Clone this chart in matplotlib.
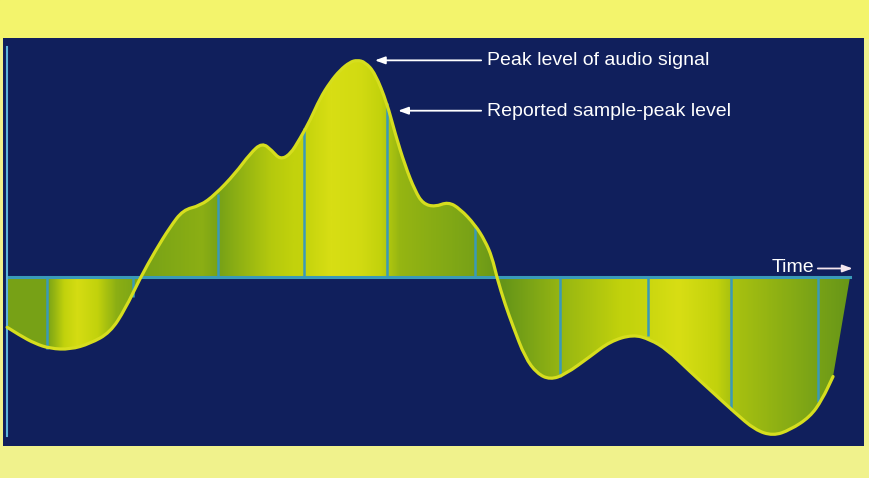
import numpy as np
import matplotlib.pyplot as plt
from matplotlib.colors import LinearSegmentedColormap
from matplotlib.path import Path
from matplotlib.patches import PathPatch

# waveform: time in sample periods, level relative to the true peak
t = [-0.465, -0.314, -0.140, 0.035, 0.267, 0.500, 0.733, 0.907, 1.081, 1.256,
     1.430, 1.581, 1.779, 1.953, 2.186, 2.360, 2.500, 2.616, 2.709, 2.826,
     2.942, 3.058, 3.174, 3.291, 3.407, 3.523, 3.605, 3.698, 3.814, 3.953,
     4.047, 4.163, 4.279, 4.372, 4.512, 4.663, 4.802, 4.977, 5.093, 5.174,
     5.233, 5.326, 5.419, 5.558, 5.698, 5.849, 6.023, 6.314, 6.547, 6.814,
     7.012, 7.209, 7.477, 7.744, 8.000, 8.233, 8.442, 8.640, 8.872, 9.012, 9.140]
level = [-0.231, -0.269, -0.306, -0.329, -0.333, -0.306, -0.255, -0.148, -0.005, 0.120,
         0.231, 0.310, 0.329, 0.380, 0.477, 0.569, 0.620, 0.583, 0.542, 0.565,
         0.639, 0.722, 0.824, 0.898, 0.954, 0.991, 1.000, 0.991, 0.940, 0.801,
         0.662, 0.514, 0.398, 0.338, 0.324, 0.347, 0.315, 0.241, 0.167, 0.093,
         -0.005, -0.125, -0.227, -0.370, -0.444, -0.472, -0.449, -0.366, -0.296, -0.264,
         -0.287, -0.333, -0.435, -0.532, -0.625, -0.704, -0.731, -0.704, -0.644, -0.565, -0.458]
t_end = 9.337  # where the shaded area closes back on the time axis

# sample instants and the level each one reports
sample_t = [0.0, 1.0, 1.988, 2.988, 3.953, 4.977, 5.965, 6.988, 7.953, 8.965]
sample_level = [-0.329, -0.093, 0.384, 0.685, 0.801, 0.241, -0.458, -0.273, -0.611, -0.574]

navy = "#101f5c"
teal = "#3a9ab8"
curve_col = "#d6de1e"


def smooth_path(xs, ys):
    # quadratic bezier through the midpoints, the read points act as control points
    pts = list(zip(xs, ys))
    verts = [pts[0]]
    codes = [Path.MOVETO]
    for i in range(1, len(pts) - 1):
        mid = ((pts[i][0] + pts[i + 1][0]) / 2, (pts[i][1] + pts[i + 1][1]) / 2)
        verts += [pts[i], mid]
        codes += [Path.CURVE3, Path.CURVE3]
    verts.append(pts[-1])
    codes.append(Path.LINETO)
    return verts, codes


fig = plt.figure(figsize=(8.7, 4.78), dpi=100, facecolor="#f0f28c")
fig.patches.append(plt.Rectangle((0, 1 - 38 / 478), 1, 38 / 478, transform=fig.transFigure,
                                 color="#f3f46c", zorder=-1))
ax = fig.add_axes([3 / 870, 1 - 446 / 478, 861 / 870, 408 / 478])
ax.set_facecolor(navy)
ax.set_xlim(-0.513, 9.500)
ax.set_ylim(-0.778, 1.102)
ax.set_xticks([])
ax.set_yticks([])
for s in ax.spines.values():
    s.set_visible(False)

verts, codes = smooth_path(t, level)

# shaded area between curve and time axis, with a horizontal green/yellow gradient
fverts = [(t[0], 0.0)] + verts + [(t_end, 0.0), (t[0], 0.0)]
fcodes = [Path.MOVETO, Path.LINETO] + codes[1:] + [Path.LINETO, Path.CLOSEPOLY]
area = PathPatch(Path(fverts, fcodes), facecolor="none", edgecolor="none")
ax.add_patch(area)
cmap = LinearSegmentedColormap.from_list("gy", ["#3f7a1c", "#7ea616", "#c2d20c", "#d8de14"])
stops_t = [-0.5, 0.0, 0.35, 0.8, 1.1, 1.8, 2.0, 2.6, 3.0, 3.3, 3.65, 3.95, 4.1, 4.98, 5.3,
           5.97, 6.8, 7.0, 7.35, 7.95, 8.97, 9.4]
stops_v = [0.3, 0.3, 0.95, 0.4, 0.3, 0.4, 0.3, 0.6, 0.7, 1.0, 0.9, 0.6, 0.45, 0.3, 0.2,
           0.45, 0.7, 0.8, 1.0, 0.55, 0.3, 0.2]
gx = np.linspace(-0.513, 9.5, 800)
grad = np.interp(gx, stops_t, stops_v)[None, :]
im = ax.imshow(grad, extent=[-0.513, 9.5, -0.778, 1.102], aspect="auto", cmap=cmap,
               vmin=0, vmax=1, origin="lower", zorder=1)
im.set_clip_path(area)

# sample lines and time axis
ax.vlines(sample_t, 0, sample_level, color=teal, lw=1.8, zorder=2)
ax.plot([t[0], t_end], [0, 0], color=teal, lw=2.2, zorder=2)
ax.plot([t[0], t[0]], [-0.73, 1.06], color="#5cb4dc", lw=1.5, zorder=2)

# the waveform itself
ax.add_patch(PathPatch(Path(verts, codes), facecolor="none", edgecolor=curve_col,
                       lw=2.3, zorder=3, capstyle="round"))

fnt = dict(family=["Liberation Sans", "DejaVu Sans"], color="white", fontsize=14,
           va="center")
arr = dict(arrowstyle="-|>,head_length=0.6,head_width=0.22", color="white", lw=1.3)
ax.annotate("", xy=(3.78, 0.999), xytext=(5.08, 0.999), arrowprops=arr, zorder=4)
ax.text(5.12, 0.997, "Peak level of audio signal", **fnt)
ax.annotate("", xy=(4.05, 0.767), xytext=(5.08, 0.767), arrowprops=arr, zorder=4)
ax.text(5.12, 0.765, "Reported sample-peak level", **fnt)
ax.text(8.43, 0.045, "Time", **fnt)
ax.annotate("", xy=(9.4, 0.04), xytext=(8.93, 0.04),
            arrowprops=dict(arrowstyle="-|>,head_length=0.6,head_width=0.22",
                            color="#f4e6ee", lw=1.3), zorder=4)

fig.savefig("out.png", dpi=100, facecolor=fig.get_facecolor())
